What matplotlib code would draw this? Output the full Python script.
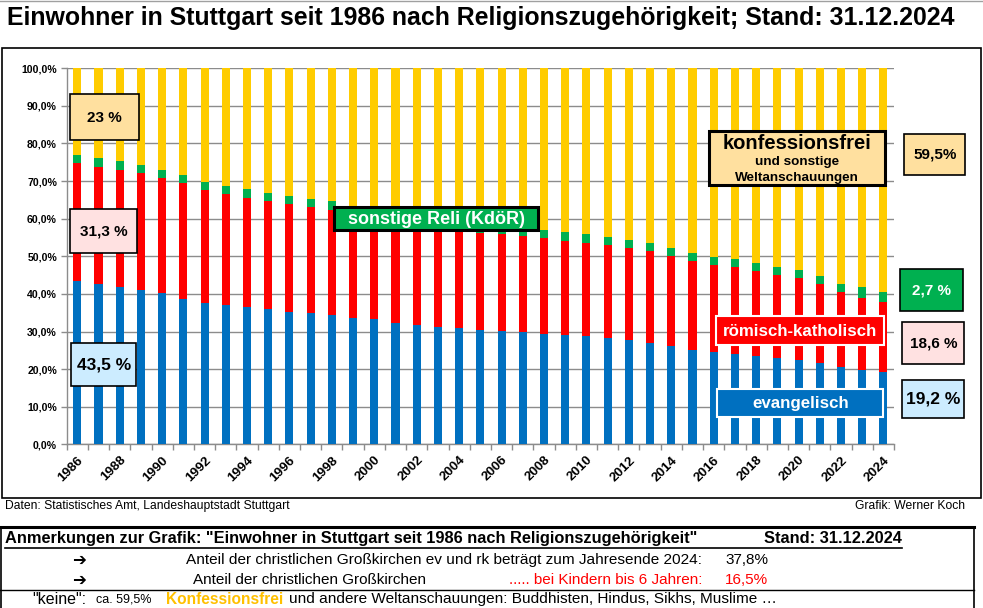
import matplotlib
matplotlib.use("Agg")
import matplotlib.pyplot as plt
from matplotlib.patches import Rectangle
from matplotlib.lines import Line2D
from matplotlib import font_manager as fm

years = list(range(1986, 2025))
evangelisch = [43.5, 42.6, 41.8, 41.1, 40.2, 38.7, 37.6, 37.1, 36.5, 36.0,
               35.2, 34.9, 34.4, 33.7, 33.2, 32.3, 31.7, 31.2, 31.0, 30.4,
               30.1, 29.9, 29.3, 29.1, 28.9, 28.4, 27.7, 27.0, 26.2, 25.1,
               24.6, 24.0, 23.5, 23.0, 22.4, 21.6, 20.5, 19.8, 19.2]
katholisch = [31.3, 31.2, 31.2, 31.1, 30.7, 30.8, 30.0, 29.5, 29.1, 28.7,
              28.8, 28.2, 27.9, 27.3, 27.1, 27.3, 27.1, 26.9, 26.2, 25.8,
              25.8, 25.5, 25.6, 25.0, 24.6, 24.5, 24.5, 24.4, 23.9, 23.7,
              23.0, 23.1, 22.6, 21.9, 21.8, 21.0, 20.0, 19.1, 18.6]
sonstige = [2.2, 2.4, 2.4, 2.1, 2.1, 2.1, 2.2, 2.1, 2.3, 2.1,
            2.0, 2.1, 2.4, 2.1, 2.2, 2.1, 2.2, 2.1, 2.2, 2.1,
            2.1, 2.2, 2.1, 2.4, 2.4, 2.2, 2.1, 2.1, 2.1, 2.1,
            2.2, 2.2, 2.1, 2.3, 2.2, 2.2, 2.1, 2.9, 2.7]
konfessionsfrei = [23.0, 23.8, 24.6, 25.7, 27.0, 28.4, 30.2, 31.3, 32.1, 33.2,
                   34.0, 34.8, 35.3, 36.9, 37.5, 38.3, 39.0, 39.8, 40.6, 41.7,
                   42.0, 42.4, 43.0, 43.5, 44.1, 44.9, 45.7, 46.5, 47.8, 49.1,
                   50.2, 50.7, 51.8, 52.8, 53.6, 55.2, 57.4, 58.2, 59.5]
yticks = [0, 10, 20, 30, 40, 50, 60, 70, 80, 90, 100]

BLUE = "#0070C0"
RED = "#FF0000"
GREEN = "#00B050"
YELLOW = "#FFCC00"
LORANGE = "#FFE09F"
LPINK = "#FFE1E1"
LBLUE = "#CCECFF"

names = {f.name for f in fm.fontManager.ttflist}
NARROW = "Liberation Sans Narrow" if "Liberation Sans Narrow" in names else "Liberation Sans"
plt.rcParams['font.family'] = ['Liberation Sans', 'DejaVu Sans']

W, H = 983, 608
fig = plt.figure(figsize=(W / 100, H / 100), dpi=100)

def fx(x):
    return x / W

def fy(y):
    return 1 - y / H

# axes
l, r, t, b = 66.7, 894, 68.3, 444.3
ax = fig.add_axes([fx(l), fy(b), fx(r) - fx(l), fy(t) - fy(b)])
x = list(range(len(years)))
bw = 0.38
b1 = evangelisch
b2 = [a + c for a, c in zip(b1, katholisch)]
b3 = [a + c for a, c in zip(b2, sonstige)]
ax.bar(x, evangelisch, bw, color=BLUE, zorder=3)
ax.bar(x, katholisch, bw, bottom=b1, color=RED, zorder=3)
ax.bar(x, sonstige, bw, bottom=b2, color=GREEN, zorder=3)
ax.bar(x, konfessionsfrei, bw, bottom=b3, color=YELLOW, zorder=3)
ax.set_xlim(-0.5, len(years) - 0.5)
ax.set_ylim(0, 100)
ax.set_yticks(yticks)
ax.set_yticklabels([("%.1f%%" % v).replace(".", ",") for v in yticks],
                   fontsize=7.6, fontweight="bold")
ax.yaxis.grid(True, color="#8C8C8C", lw=1, zorder=0)
ax.set_axisbelow(True)
ax.set_xticks(x[::2])
ax.set_xticklabels([str(y) for y in years[::2]], rotation=45, ha="right",
                   rotation_mode="anchor", fontsize=9.6, fontweight="bold")
ax.set_xticks([i - 0.5 for i in range(len(years) + 1)], minor=True)
ax.tick_params(axis="x", which="major", length=0, pad=7)
ax.tick_params(axis="x", which="minor", length=4, color="#8C8C8C", width=1)
ax.tick_params(axis="y", length=4, color="#8C8C8C", width=1, pad=3)
for s in ["top", "right"]:
    ax.spines[s].set_visible(False)
for s in ["left", "bottom"]:
    ax.spines[s].set_color("#8C8C8C")
    ax.spines[s].set_linewidth(1)

# chart frame
fig.add_artist(Rectangle((fx(1.5), fy(497.7)), fx(981) - fx(1.5), fy(48.3) - fy(497.7),
                         transform=fig.transFigure, fill=False, ec="black", lw=1.2, zorder=1))
fig.add_artist(Line2D([0, 1], [fy(0.5), fy(0.5)], transform=fig.transFigure, color="#A0A0A0", lw=1))

fig.text(fx(7), fy(17.5), "Einwohner in Stuttgart seit 1986 nach Religionszugehörigkeit; Stand: 31.12.2024",
         fontsize=17.9, fontweight="bold", ha="left", va="center")

def box(x0, y0, x1, y1, fc, ec="black", lw=1.2):
    fig.add_artist(Rectangle((fx(x0), fy(y1)), fx(x1) - fx(x0), fy(y0) - fy(y1),
                             transform=fig.transFigure, fc=fc, ec=ec, lw=lw, zorder=10))

def label(xc, yc, s, size, color="black", weight="bold", family=None):
    kw = {}
    if family:
        kw["family"] = family
    fig.text(fx(xc), fy(yc), s, fontsize=size, color=color, fontweight=weight,
             ha="center", va="center", zorder=11, **kw)

# left value boxes
box(70.3, 94.3, 139.3, 140, LORANGE)
label(104.8, 118, "23 %", 11)
box(70.3, 209.3, 137, 253.3, LPINK)
label(103.7, 232, "31,3 %", 11)
box(71.3, 343.3, 136.3, 386, LBLUE)
label(103.8, 365.5, "43,5 %", 12.5)

# series labels
box(334.3, 206.7, 538.3, 230.3, GREEN, lw=2.2)
label(436.3, 219.5, "sonstige Reli (KdöR)", 13, color="white")
box(708.7, 130.7, 885.3, 185, LORANGE, lw=2.2)
label(797, 143.5, "konfessionsfrei", 14.5)
label(797, 162.5, "und sonstige", 9.7)
label(797, 177.5, "Weltanschauungen", 9.7)
box(715.7, 315.7, 884.3, 345, RED, ec="white", lw=1.5)
label(800, 331, "römisch-katholisch", 12.2, color="white")
box(717.3, 388.7, 883.3, 417, BLUE, ec="white", lw=1.5)
label(800.3, 403.5, "evangelisch", 12.2, color="white")

# right value boxes
box(904.3, 134.3, 965.3, 175.3, LORANGE)
label(934.8, 155, "59,5%", 11)
box(900.3, 269.3, 963.3, 311, GREEN)
label(931.8, 290.5, "2,7 %", 11, color="white")
box(902.3, 322.3, 964.3, 364, LPINK)
label(933.3, 343.5, "18,6 %", 11)
box(902.3, 380.3, 964.3, 418, LBLUE)
label(933.3, 399.5, "19,2 %", 12.5)

# footer
fig.text(fx(5), fy(506), "Daten: Statistisches Amt, Landeshauptstadt Stuttgart",
         fontsize=8.7, family=NARROW, ha="left", va="center")
fig.text(fx(965), fy(506), "Grafik: Werner Koch",
         fontsize=8.7, family=NARROW, ha="right", va="center")

# annotation box
fig.add_artist(Line2D([fx(0), fx(973.5)], [fy(527), fy(527)], transform=fig.transFigure, color="black", lw=2.2))
fig.add_artist(Line2D([fx(973.5), fx(973.5)], [fy(527), fy(608)], transform=fig.transFigure, color="black", lw=1.2))
fig.add_artist(Line2D([fx(1), fx(1)], [fy(527), fy(608)], transform=fig.transFigure, color="black", lw=1.2))
fig.add_artist(Line2D([fx(0), fx(973.5)], [fy(589.5), fy(589.5)], transform=fig.transFigure, color="black", lw=1))
fig.add_artist(Line2D([fx(5), fx(902)], [fy(548), fy(548)], transform=fig.transFigure, color="black", lw=1.2))

fig.text(fx(5), fy(538.5), 'Anmerkungen zur Grafik: "Einwohner in Stuttgart seit 1986 nach Religionszugehörigkeit"',
         fontsize=11.8, fontweight="bold", family=NARROW, ha="left", va="center")
fig.text(fx(902), fy(538.5), "Stand: 31.12.2024",
         fontsize=11.8, fontweight="bold", family=NARROW, ha="right", va="center")

fig.text(fx(79), fy(560), "➔", fontsize=12, fontweight="bold", family="DejaVu Sans", ha="center", va="center")
fig.text(fx(79), fy(580), "➔", fontsize=12, fontweight="bold", family="DejaVu Sans", ha="center", va="center")
fig.text(fx(702), fy(560), "Anteil der christlichen Großkirchen ev und rk beträgt zum Jahresende 2024:",
         fontsize=11.1, family=NARROW, ha="right", va="center")
fig.text(fx(725), fy(560), "37,8%", fontsize=11, family=NARROW, ha="left", va="center")
fig.text(fx(193), fy(580), "Anteil der christlichen Großkirchen",
         fontsize=11, family=NARROW, ha="left", va="center")
fig.text(fx(702), fy(580), "..... bei Kindern bis 6 Jahren:", color=RED,
         fontsize=11, family=NARROW, ha="right", va="center")
fig.text(fx(725), fy(580), "16,5%", color=RED, fontsize=11, family=NARROW, ha="left", va="center")

fig.text(fx(32), fy(599.5), '"keine":', fontsize=11.5, family=NARROW, ha="left", va="center")
fig.text(fx(96), fy(600), "ca. 59,5%", fontsize=9, family=NARROW, ha="left", va="center")
fig.text(fx(166), fy(599.5), "Konfessionsfrei", fontsize=11.2, fontweight="bold", color="#FFC000",
         family=NARROW, ha="left", va="center")
fig.text(fx(289), fy(599.5), "und andere Weltanschauungen: Buddhisten, Hindus, Sikhs, Muslime …",
         fontsize=11.1, family=NARROW, ha="left", va="center")

fig.savefig("out.png", dpi=100)
